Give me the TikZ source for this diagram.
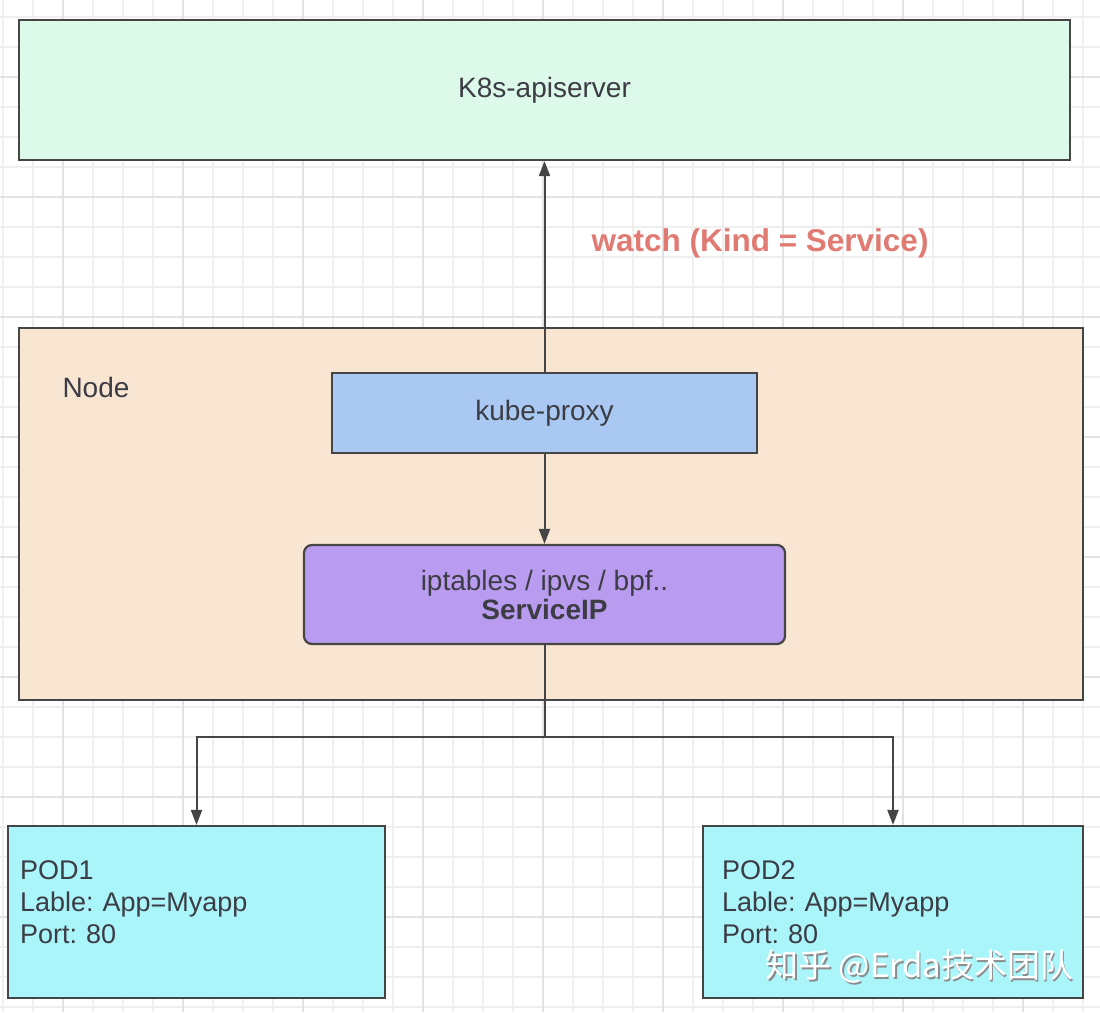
\documentclass[tikz,border=0pt]{standalone}
\usepackage{fontspec}
\setmainfont{Liberation Sans}
\newfontfamily\cjkfont{Noto Sans CJK SC}
\usetikzlibrary{arrows.meta, positioning}
\frenchspacing

\definecolor{gridminor}{HTML}{EFEFEF}
\definecolor{gridmajor}{HTML}{E2E2E2}
\definecolor{edgegray}{HTML}{454545}
\definecolor{textgray}{HTML}{3C3C44}
\definecolor{apifill}{HTML}{DDF9EA}
\definecolor{hostfill}{HTML}{F9E6D2}
\definecolor{proxyfill}{HTML}{A9C9F3}
\definecolor{rulefill}{HTML}{B99CF0}
\definecolor{podfill}{HTML}{A9F5FA}
\definecolor{watchred}{HTML}{E07A72}

\begin{document}
\begin{tikzpicture}[x=1pt, y=-1pt,
    on grid,
    >={Triangle[length=15pt,width=11pt]},
    every node/.style={font=\fontsize{28}{32}\selectfont, text=textgray},
    box/.style={draw=edgegray, line width=2.2pt, inner sep=0pt},
    podbox/.style={box, fill=podfill, minimum height=172pt, inner xsep=12pt,
        text depth=84pt, align=left, font=\fontsize{27}{32}\selectfont},
    link/.style={draw=edgegray, line width=2pt}]

    \useasboundingbox (0,0) rectangle (1100,1012);

    % grid paper
    \foreach \x in {3,33,...,1093}
        \draw[gridminor, line width=1.1pt] (\x,0) -- (\x,1012);
    \foreach \y in {17,47,...,1012}
        \draw[gridminor, line width=1.1pt] (0,\y) -- (1100,\y);
    \foreach \x in {63,183,...,1093}
        \draw[gridmajor, line width=1.4pt] (\x,0) -- (\x,1012);
    \foreach \y in {77,197,...,1012}
        \draw[gridmajor, line width=1.4pt] (0,\y) -- (1100,\y);

    \node[box, fill=apifill, minimum width=1051pt, minimum height=140pt]
        (api) at (544.5,90) {K8s-apiserver};

    \node[box, fill=hostfill, minimum width=1064pt, minimum height=372pt]
        (host) at (551,514) {};
    \node[anchor=west] (hostlbl) at (59,387) {Node};

    \node[box, fill=proxyfill, minimum width=425pt, minimum height=80pt]
        (proxy) [below=323pt of api] {kube-proxy};
    \node[box, fill=rulefill, rounded corners=8pt, minimum width=481pt,
        minimum height=99pt, align=center]
        (rules) [below=181.5pt of proxy] {iptables / ipvs / bpf..\\[-3pt]\textbf{ServiceIP}};

    \coordinate (fork) at (544.5,737);

    \node[podbox, text width=353pt] (pod1) at (196.5,912)
        {POD1\\Lable: App=Myapp\\Port: 80};
    \node[podbox, inner xsep=19pt, text width=342pt] (pod2) at (893,912)
        {POD2\\Lable: App=Myapp\\Port: 80};

    \node[anchor=west, text=watchred, font=\fontsize{31.5}{36}\selectfont\bfseries]
        (watch) at (588,243) {watch (Kind = Service)};

    \path[link, ->] (proxy) -- (api);
    \path[link, ->] (proxy) -- (rules);
    \path[link] (rules) -- (fork);
    \path[link, ->] (fork) -| (pod1);
    \path[link, ->] (fork) -| (pod2);

    % watermark
    \node[anchor=west, text=black!45, font=\fontsize{33}{36}\cjkfont]
        (markshade) at (763.5,968) {知乎 @Erda技术团队};
    \node[anchor=west, text=white, font=\fontsize{33}{36}\cjkfont]
        (mark) at (762,966.5) {知乎 @Erda技术团队};
\end{tikzpicture}
\end{document}
